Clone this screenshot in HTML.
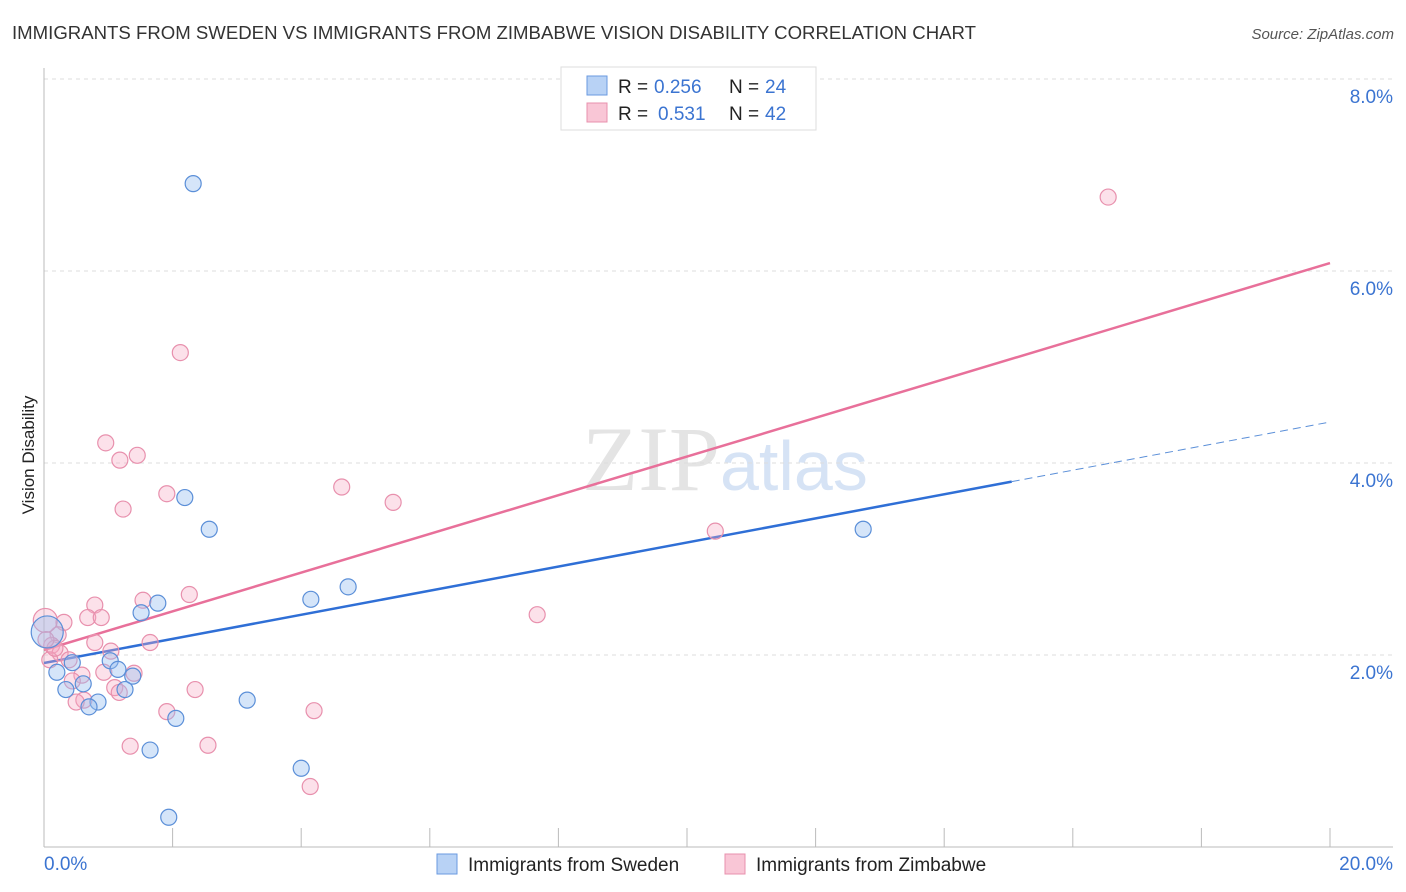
<!DOCTYPE html>
<html><head><meta charset="utf-8"><style>
body{margin:0;background:#fff;font-family:"Liberation Sans",sans-serif}
svg{display:block}
</style></head><body>
<svg id="chart" width="1406" height="892">
<text x="12" y="39" font-size="18" fill="#333" textLength="964" lengthAdjust="spacingAndGlyphs">IMMIGRANTS FROM SWEDEN VS IMMIGRANTS FROM ZIMBABWE VISION DISABILITY CORRELATION CHART</text>
<text x="1394" y="39" font-size="15" fill="#555" font-style="italic" text-anchor="end">Source: ZipAtlas.com</text>
<text x="720" y="490" font-size="92" fill="#e4e4e4" text-anchor="end" font-family="Liberation Serif,serif">ZIP</text>
<text x="720" y="490" font-size="70" fill="#d6e3f5">atlas</text>
<text transform="translate(34,455) rotate(-90)" font-size="17" fill="#222" text-anchor="middle">Vision Disability</text>
<g id="grid"></g><g id="axes"></g><g id="lines"></g><g id="pts"></g>
<g>
<rect x="561" y="67" width="255" height="63" fill="#fff" stroke="#ddd"/>
<rect x="587" y="76" width="20" height="19" fill="#b8d2f5" stroke="#6a9ae0"/>
<text x="618" y="93" font-size="19" fill="#222">R =</text>
<text x="654" y="93" font-size="19" fill="#3b74d1">0.256</text>
<text x="729" y="93" font-size="19" fill="#222">N =</text>
<text x="765" y="93" font-size="19" fill="#3b74d1">24</text>
<rect x="587" y="103" width="20" height="19" fill="#f9c6d6" stroke="#e890ad"/>
<text x="618" y="120" font-size="19" fill="#222">R =</text>
<text x="658" y="120" font-size="19" fill="#3b74d1">0.531</text>
<text x="729" y="120" font-size="19" fill="#222">N =</text>
<text x="765" y="120" font-size="19" fill="#3b74d1">42</text>
</g>
<g>
<rect x="437" y="854" width="20" height="20" fill="#b8d2f5" stroke="#6a9ae0"/>
<text x="468" y="871" font-size="19" fill="#222">Immigrants from Sweden</text>
<rect x="725" y="854" width="20" height="20" fill="#f9c6d6" stroke="#e890ad"/>
<text x="756" y="871" font-size="19" fill="#222">Immigrants from Zimbabwe</text>
</g>
</svg>
<script>
const yTicks=[2,4,6,8];
const xTickLabels=["0.0%","20.0%"];
const swedenX=[2.32,2.19,2.57,1.77,1.51,4.15,4.73,12.74,1.03,0.44,0.20,1.15,1.38,0.61,0.34,1.26,0.84,0.70,3.16,2.05,1.65,4.00,1.94,0.05];
const swedenY=[6.91,3.64,3.31,2.54,2.44,2.58,2.71,3.31,1.94,1.92,1.82,1.85,1.78,1.70,1.64,1.64,1.51,1.46,1.53,1.34,1.01,0.82,0.31,2.24];
const zimX=[16.55,2.12,0.96,1.45,1.18,1.91,1.23,4.63,5.43,10.44,7.67,2.26,1.54,0.79,0.68,0.89,0.31,1.65,0.79,0.22,0.12,0.25,1.04,0.39,0.59,0.93,1.40,0.44,1.10,1.17,2.35,1.91,4.20,0.62,0.50,1.34,2.55,4.14,0.09,0.02,0.17,0.03];
const zimY=[6.77,5.15,4.21,4.08,4.03,3.68,3.52,3.75,3.59,3.29,2.42,2.63,2.57,2.52,2.39,2.39,2.34,2.13,2.13,2.21,2.10,2.02,2.04,1.95,1.79,1.82,1.81,1.73,1.66,1.61,1.64,1.41,1.42,1.53,1.51,1.05,1.06,0.63,1.95,2.36,2.07,2.16];
const swedenTrend=[1.917,4.427];
const zimTrend=[2.052,6.083];
const swedenSolidEnd=15.05;
const NS="http://www.w3.org/2000/svg";
const X=v=>44+v*64.3, Y=v=>847-v*96;
function mk(p,t,a){const e=document.createElementNS(NS,t);for(const k in a)e.setAttribute(k,a[k]);document.getElementById(p).appendChild(e);return e;}
yTicks.forEach(t=>{
 const l=mk('grid','line',{x1:44,x2:1393,y1:Y(t),y2:Y(t),stroke:'#ddd','stroke-dasharray':'4,4'});
 
 
 const tx=mk('grid','text',{x:1393,y:Y(t)+24,'font-size':19,fill:'#3b74d1','text-anchor':'end'});
 tx.textContent=t.toFixed(1)+'%';
 
 
});
mk('axes','line',{x1:44,x2:44,y1:68,y2:847,stroke:'#bbb'});
mk('axes','line',{x1:44,x2:1393,y1:847,y2:847,stroke:'#bbb'});
for(let i=1;i<=10;i++){const t=mk('axes','line',{x1:X(i*2),x2:X(i*2),y1:828,y2:847,stroke:'#bbb'});
 
 }
const xl0=mk('axes','text',{x:44,y:870,'font-size':19,fill:'#3b74d1'});xl0.textContent=xTickLabels[0];


const xl1=mk('axes','text',{x:1393,y:870,'font-size':19,fill:'#3b74d1','text-anchor':'end'});xl1.textContent=xTickLabels[1];


function pts(xs,ys,fill,stroke,name,bigIdx,bigR){xs.forEach((x,i)=>{
 const c=mk('pts','circle',{cx:X(x),cy:Y(ys[i]),r:i===bigIdx?bigR:8,fill:fill,stroke:stroke,'stroke-width':1.2});
 
 });}
pts(zimX,zimY,'rgba(245,170,195,0.35)','#e890ad','zimbabwe-point',39,12);
pts(swedenX,swedenY,'rgba(150,190,240,0.4)','#5b8fd8','sweden-point',23,16);
const sl=(a,x)=>a[0]+(a[1]-a[0])*x/20;
const l1=mk('lines','line',{x1:X(0),y1:Y(zimTrend[0]),x2:X(20),y2:Y(zimTrend[1]),stroke:'#e8709a','stroke-width':2.5});


const l2=mk('lines','line',{x1:X(0),y1:Y(swedenTrend[0]),x2:X(swedenSolidEnd),y2:Y(sl(swedenTrend,swedenSolidEnd)),stroke:'#2f6fd6','stroke-width':2.5});


const l3=mk('lines','line',{x1:X(swedenSolidEnd),y1:Y(sl(swedenTrend,swedenSolidEnd)),x2:X(20),y2:Y(swedenTrend[1]),stroke:'#5b8fd8','stroke-width':1,'stroke-dasharray':'8,5'});


</script>
</body></html>
